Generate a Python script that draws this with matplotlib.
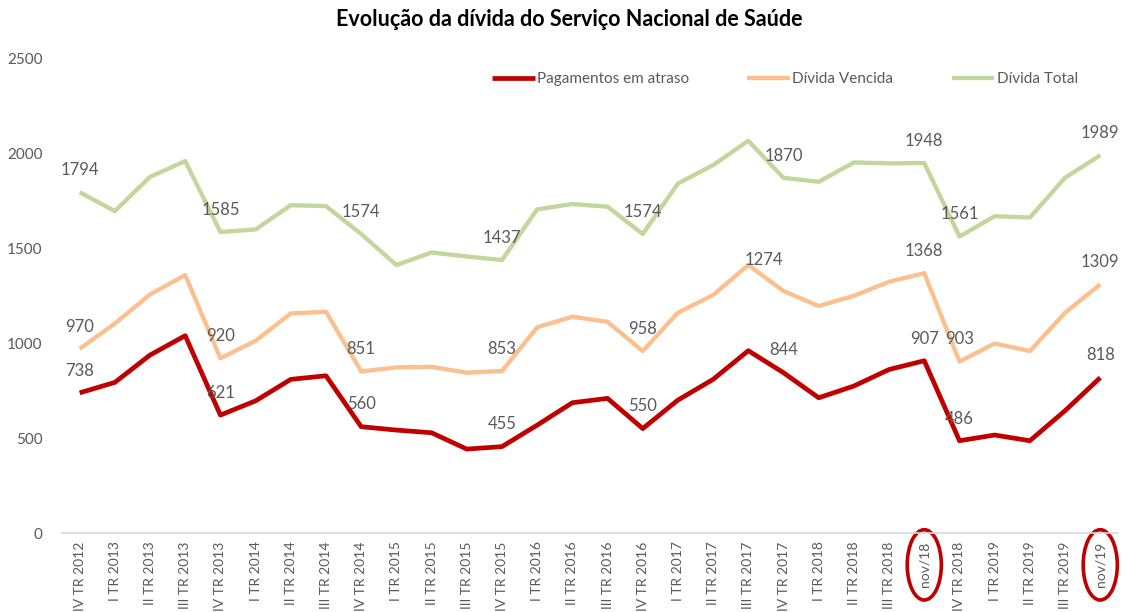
import matplotlib.pyplot as plt
import matplotlib.transforms as mtransforms
from matplotlib.patches import Ellipse

plt.rcParams['font.family'] = ['Lato', 'DejaVu Sans']

periodos = ['IV TR 2012', 'I TR 2013', 'II TR 2013', 'III TR 2013', 'IV TR 2013',
            'I TR 2014', 'II TR 2014', 'III TR 2014', 'IV TR 2014',
            'I TR 2015', 'II TR 2015', 'III TR 2015', 'IV TR 2015',
            'I TR 2016', 'II TR 2016', 'III TR 2016', 'IV TR 2016',
            'I TR 2017', 'II TR 2017', 'III TR 2017', 'IV TR 2017',
            'I TR 2018', 'II TR 2018', 'III TR 2018', 'nov/18',
            'IV TR 2018', 'I TR 2019', 'II TR 2019', 'III TR 2019', 'nov/19']

pagamentos_atraso = [738, 793, 937, 1039, 621, 696, 809, 828, 560, 542, 528, 442, 455,
                     568, 686, 709, 550, 700, 809, 960, 844, 712, 774, 861, 907,
                     486, 516, 486, 644, 818]
divida_vencida = [970, 1103, 1256, 1358, 920, 1012, 1156, 1165, 851, 872, 875, 844, 853,
                  1083, 1139, 1112, 958, 1160, 1253, 1411, 1274, 1195, 1249, 1323, 1368,
                  903, 998, 958, 1160, 1309]
divida_total = [1794, 1695, 1875, 1958, 1585, 1598, 1726, 1721, 1574, 1411, 1477, 1456, 1437,
                1704, 1732, 1718, 1574, 1840, 1937, 2065, 1870, 1849, 1951, 1946, 1948,
                1561, 1668, 1661, 1870, 1989]

# pontos com rótulo de dados
rotulos = [0, 4, 8, 12, 16, 20, 24, 25, 29]
destaques = ['nov/18', 'nov/19']

cinza = '#595959'
series = [
    ('Pagamentos em atraso', pagamentos_atraso, '#C00000', 3.4),
    ('Dívida Vencida', divida_vencida, '#FAC090', 3.1),
    ('Dívida Total', divida_total, '#C3D69B', 3.1),
]

fig = plt.figure(figsize=(11.28, 6.12), dpi=100)
ax = fig.add_axes([0.055, 0.129, 0.936, 0.776])
x = list(range(len(periodos)))

for nome, valores, cor, lw in series:
    ax.plot(x, valores, color=cor, lw=lw, label=nome, solid_capstyle='butt')
    for i in rotulos:
        dx, dy = 0, 16
        if nome == 'Dívida Vencida' and i == 20:
            dx, dy = -14, 22  # rótulo deslocado no original
        ax.annotate(str(valores[i]), (i, valores[i]), xytext=(dx, dy),
                    textcoords='offset points', ha='center', va='center',
                    fontsize=12, color=cinza)

ax.set_xlim(-0.5, len(periodos) - 0.5)
ax.set_ylim(0, 2500)
ax.set_yticks([0, 500, 1000, 1500, 2000, 2500])
ax.set_xticks(x)
ax.set_xticklabels(periodos, rotation=90, fontsize=10, color=cinza)
ax.tick_params(axis='y', length=0, labelsize=11, labelcolor=cinza, pad=14)
ax.tick_params(axis='x', length=0, pad=6)
for s in ['top', 'right', 'left']:
    ax.spines[s].set_visible(False)
ax.spines['bottom'].set_color('#D9D9D9')
ax.spines['bottom'].set_linewidth(1.2)

# elipses vermelhas à volta dos rótulos de novembro
trans = mtransforms.blended_transform_factory(ax.transData, ax.transAxes)
for p in destaques:
    i = periodos.index(p)
    ax.add_patch(Ellipse((i, -0.067), 0.97, 0.148, transform=trans, fill=False,
                         edgecolor='#C00000', lw=2.6, clip_on=False))

ax.legend(loc='upper right', bbox_to_anchor=(0.975, 1.0), ncol=3, frameon=False,
          fontsize=11, handlelength=2.8, columnspacing=3.8, handletextpad=0.15,
          labelcolor=cinza)

fig.suptitle('Evolução da dívida do Serviço Nacional de Saúde', x=0.505, y=0.985,
             fontsize=15.5, fontweight='bold', color='black')

fig.savefig('out.png', dpi=100)
